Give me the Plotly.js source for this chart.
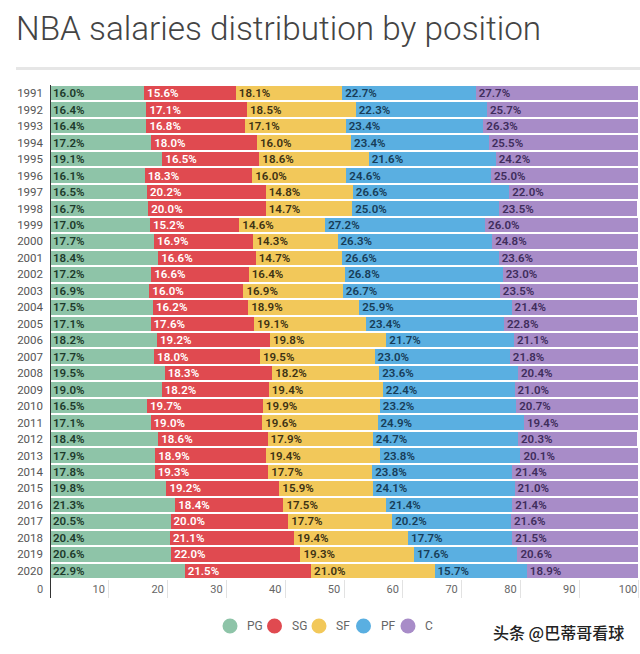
<!DOCTYPE html>
<html>
<head>
<meta charset="utf-8">
<script src="https://cdn.plot.ly/plotly-3.0.1.min.js"></script>
<style>
  html, body { margin: 0; padding: 0; background: #fff; }
  #chart { width: 640px; height: 654px; }
</style>
</head>
<body>
<div id="chart"></div>
<script>
const years = ["1991","1992","1993","1994","1995","1996","1997","1998","1999","2000",
  "2001","2002","2003","2004","2005","2006","2007","2008","2009","2010",
  "2011","2012","2013","2014","2015","2016","2017","2018","2019","2020"];
const positions = ["PG", "SG", "SF", "PF", "C"];
const pg = [16.0,16.4,16.4,17.2,19.1,16.1,16.5,16.7,17.0,17.7,18.4,17.2,16.9,17.5,17.1,18.2,17.7,19.5,19.0,16.5,17.1,18.4,17.9,17.8,19.8,21.3,20.5,20.4,20.6,22.9];
const sg = [15.6,17.1,16.8,18.0,16.5,18.3,20.2,20.0,15.2,16.9,16.6,16.6,16.0,16.2,17.6,19.2,18.0,18.3,18.2,19.7,19.0,18.6,18.9,19.3,19.2,18.4,20.0,21.1,22.0,21.5];
const sf = [18.1,18.5,17.1,16.0,18.6,16.0,14.8,14.7,14.6,14.3,14.7,16.4,16.9,18.9,19.1,19.8,19.5,18.2,19.4,19.9,19.6,17.9,19.4,17.7,15.9,17.5,17.7,19.4,19.3,21.0];
const pf = [22.7,22.3,23.4,23.4,21.6,24.6,26.6,25.0,27.2,26.3,26.6,26.8,26.7,25.9,23.4,21.7,23.0,23.6,22.4,23.2,24.9,24.7,23.8,23.8,24.1,21.4,20.2,17.7,17.6,15.7];
const c  = [27.7,25.7,26.3,25.5,24.2,25.0,22.0,23.5,26.0,24.8,23.6,23.0,23.5,21.4,22.8,21.1,21.8,20.4,21.0,20.7,19.4,20.3,20.1,21.4,21.0,21.4,21.6,21.5,20.6,18.9];
const xTicks = [0,10,20,30,40,50,60,70,80,90,100];
const watermark = "头条 @巴蒂哥看球";
const titleText = "NBA salaries distribution by position";

const series = [pg, sg, sf, pf, c];
const colors = ["#8ec4a8", "#e04a50", "#f2c85a", "#5aafe1", "#a88cc8"];
const textColors = ["#1d3a2b", "#ffffff", "#3d3214", "#173d58", "#3f2d5c"];

const FONT = "Roboto, 'Noto Sans', sans-serif";
const traces = series.map((vals, i) => ({
  type: "bar", orientation: "h", name: positions[i],
  y: years, x: vals,
  marker: { color: colors[i], line: { width: 0 } },
  texttemplate: "%{x:.1f}%", textposition: "inside", insidetextanchor: "start",
  textangle: 0, constraintext: "none",
  textfont: { family: FONT, size: 11.5, color: textColors[i], weight: 600 },
  hoverinfo: "skip", showlegend: false
}));

const L = 50, R = 638, T = 85, B = 579;
const W = R - L, H = B - T;
const px = v => (v - L) / W;
const py = v => (B - v) / H;

// manual legend (circle + label), laid out left to right
const legendY = 626, legendStart = 230, legendStep = 44.5, labelOffset = 15;
const legendShapes = positions.map((p, i) => ({
  type: "circle", xref: "paper", yref: "paper", xsizemode: "pixel", ysizemode: "pixel",
  xanchor: px(legendStart + i * legendStep), yanchor: py(legendY),
  x0: -7.5, x1: 7.5, y0: -7.5, y1: 7.5,
  fillcolor: colors[i], line: { width: 0 }
}));
const legendLabels = positions.map((p, i) => ({
  text: p, xref: "paper", yref: "paper",
  x: px(legendStart + i * legendStep + labelOffset), y: py(legendY),
  xanchor: "left", yanchor: "middle", showarrow: false,
  font: { family: FONT, size: 12, color: "#666" }
}));

const layout = {
  width: 640, height: 654,
  margin: { l: L, r: 640 - R, t: T, b: 654 - B },
  paper_bgcolor: "#ffffff", plot_bgcolor: "#ffffff",
  font: { family: FONT, color: "#555" },
  barmode: "stack", bargap: 0.12, showlegend: false,
  title: { text: titleText, x: 16 / 640, xanchor: "left", y: 1 - 28 / 654, yanchor: "middle",
           font: { family: FONT, size: 33.3, color: "#444", weight: 300 } },
  xaxis: {
    range: [0, 100], tickvals: xTicks, showgrid: false, zeroline: false,
    ticks: "outside", ticklen: 18, tickcolor: "#e2e2e2", tickwidth: 1,
    ticklabelstandoff: -18, ticklabelshift: -10,
    tickfont: { family: FONT, size: 11, color: "#666" }, fixedrange: true
  },
  yaxis: {
    type: "category", autorange: "reversed", showgrid: false, zeroline: false,
    ticks: "", ticklabelstandoff: 6,
    tickfont: { family: FONT, size: 11.5, color: "#555" }, fixedrange: true
  },
  shapes: [
    { type: "line", xref: "paper", yref: "paper", x0: px(16), x1: px(640), y0: py(68.5), y1: py(68.5),
      line: { color: "#e6e6e6", width: 3 } },
    { type: "line", xref: "x", yref: "paper", x0: 0, x1: 0, y0: py(598), y1: 1,
      line: { color: "#333", width: 2 } }
  ].concat(legendShapes),
  annotations: [
    { text: watermark, xref: "paper", yref: "paper", x: px(626), y: py(632), xanchor: "right", yanchor: "middle",
      showarrow: false, font: { family: "'Noto Sans CJK SC', sans-serif", size: 16, color: "#222", weight: 500 } }
  ].concat(legendLabels)
};

Plotly.newPlot("chart", traces, layout, { displayModeBar: false, staticPlot: true });
</script>
</body>
</html>
